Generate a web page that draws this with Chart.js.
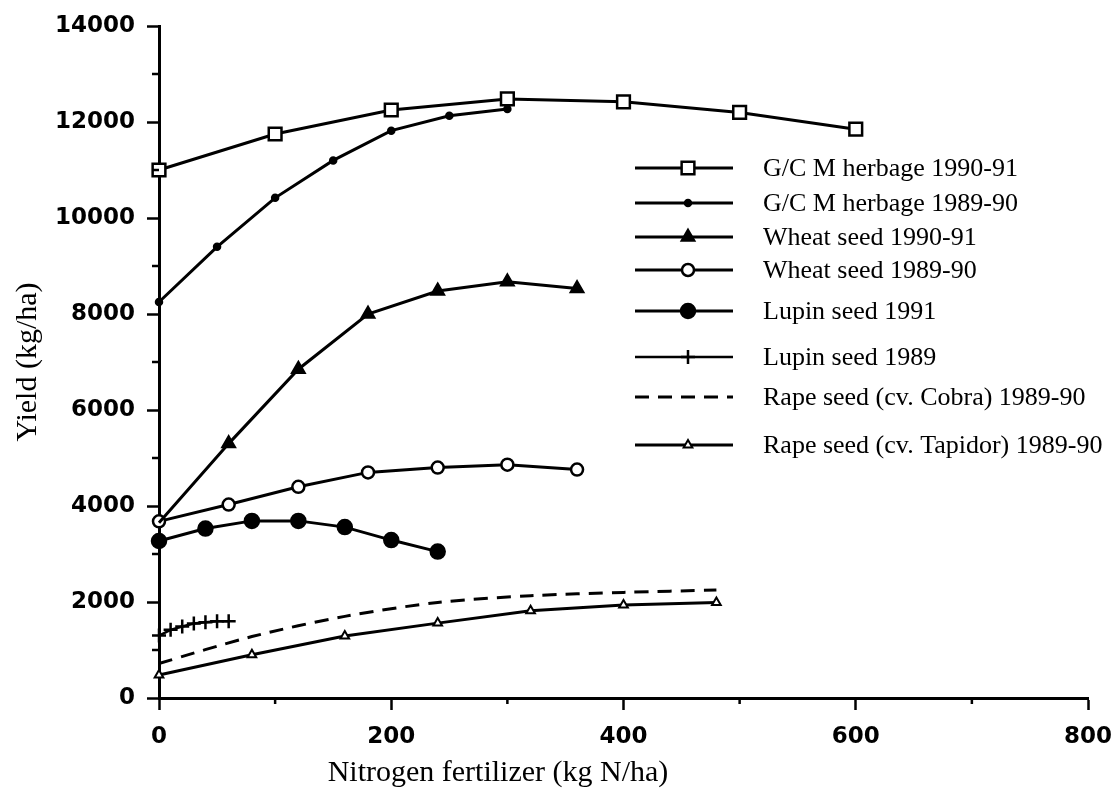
<!DOCTYPE html>
<html>
<head>
<meta charset="utf-8">
<script src="https://cdn.jsdelivr.net/npm/chart.js@4/dist/chart.umd.min.js"></script>
<style>
  html, body { margin: 0; padding: 0; background: #fff; }
  #wrap { width: 1111px; height: 796px; }
</style>
</head>
<body>
<div id="wrap"><canvas id="yieldChart" width="1111" height="796"></canvas></div>
<script>
// values
const xGC91 = [0, 100, 200, 300, 400, 500, 600];
const yGC91 = [11000, 11750, 12250, 12480, 12420, 12200, 11850];
const xGC90 = [0, 50, 100, 150, 200, 250, 300];
const yGC90 = [8250, 9400, 10420, 11200, 11820, 12130, 12270];
const xWheat = [0, 60, 120, 180, 240, 300, 360];
const yWheat91 = [3650, 5300, 6850, 8000, 8480, 8670, 8530];
const yWheat90 = [3680, 4030, 4400, 4700, 4800, 4860, 4760];
const xLupin91 = [0, 40, 80, 120, 160, 200, 240];
const yLupin91 = [3270, 3530, 3690, 3690, 3560, 3290, 3050];
const xLupin89 = [0, 10, 20, 30, 40, 50, 60];
const yLupin89 = [1300, 1420, 1490, 1550, 1580, 1600, 1600];
const xRape = [0, 80, 160, 240, 320, 400, 480];
const yCobra = [720, 1280, 1700, 1990, 2130, 2200, 2250];
const yTapidor = [480, 900, 1290, 1560, 1820, 1940, 1990];

const seriesLabels = [
  'G/C M herbage 1990-91',
  'G/C M herbage 1989-90',
  'Wheat seed 1990-91',
  'Wheat seed 1989-90',
  'Lupin seed 1991',
  'Lupin seed 1989',
  'Rape seed (cv. Cobra) 1989-90',
  'Rape seed (cv. Tapidor) 1989-90'
];
const xTicks = [0, 200, 400, 600, 800];
const yTicks = [0, 2000, 4000, 6000, 8000, 10000, 12000, 14000];
const xTitle = 'Nitrogen fertilizer (kg N/ha)';
const yTitle = 'Yield (kg/ha)';

const pts = (xs, ys) => xs.map((x, i) => ({ x, y: ys[i] }));

function series(label, data, style) {
  return Object.assign({
    label,
    data,
    showLine: true,
    borderColor: '#000',
    backgroundColor: '#000',
    pointBorderColor: '#000',
    borderWidth: 3,
    pointBorderWidth: 2.5,
    tension: 0,
    clip: false
  }, style);
}

const datasets = [
  series(seriesLabels[0], pts(xGC91, yGC91), { pointStyle: 'rect', pointRadius: 9, pointBackgroundColor: '#fff' }),
  series(seriesLabels[1], pts(xGC90, yGC90), { pointStyle: 'circle', pointRadius: 3, pointBackgroundColor: '#000' }),
  series(seriesLabels[2], pts(xWheat, yWheat91), { pointStyle: 'triangle', pointRadius: c => c.dataIndex === 0 ? 0 : 7, pointBackgroundColor: '#000' }),
  series(seriesLabels[3], pts(xWheat, yWheat90), { pointStyle: 'circle', pointRadius: 6, pointBackgroundColor: '#fff' }),
  series(seriesLabels[4], pts(xLupin91, yLupin91), { pointStyle: 'circle', pointRadius: 7, pointBackgroundColor: '#000' }),
  series(seriesLabels[5], pts(xLupin89, yLupin89), { pointStyle: 'cross', pointRadius: 7, pointBorderWidth: 2.5, borderWidth: 2.5 }),
  series(seriesLabels[6], pts(xRape, yCobra), { pointRadius: 0, borderDash: [14, 9], tension: 0.3 }),
  series(seriesLabels[7], pts(xRape, yTapidor), { pointStyle: 'triangle', pointRadius: 5, pointBorderWidth: 2, pointBackgroundColor: '#fff' })
];

// legend drawn inside the plot, plus minor ticks and the x title
const extras = {
  id: 'extras',
  afterDraw(chart) {
    const ctx = chart.ctx;
    const xs = chart.scales.x, ys = chart.scales.y;
    ctx.save();
    ctx.strokeStyle = '#000';
    ctx.lineWidth = 2.5;
    for (let v = 1000; v < 14000; v += 2000) {
      const py = ys.getPixelForValue(v);
      ctx.beginPath(); ctx.moveTo(xs.left - 7, py); ctx.lineTo(xs.left, py); ctx.stroke();
    }
    for (let v = 100; v < 800; v += 200) {
      const px = xs.getPixelForValue(v);
      ctx.beginPath(); ctx.moveTo(px, ys.bottom); ctx.lineTo(px, ys.bottom + 6); ctx.stroke();
    }

    const rows = [168, 203, 237, 270, 311, 357, 397, 445];
    chart.data.datasets.forEach((ds, i) => {
      const y = rows[i];
      ctx.save();
      ctx.lineWidth = ds.borderWidth;
      ctx.strokeStyle = '#000';
      if (ds.borderDash) ctx.setLineDash(ds.borderDash);
      ctx.beginPath(); ctx.moveTo(635, y); ctx.lineTo(733, y); ctx.stroke();
      ctx.restore();
      const r = typeof ds.pointRadius === 'function' ? 7 : ds.pointRadius;
      if (r > 0) {
        ctx.save();
        ctx.fillStyle = ds.pointBackgroundColor;
        ctx.strokeStyle = '#000';
        ctx.lineWidth = ds.pointBorderWidth;
        Chart.helpers.drawPoint(ctx, { pointStyle: ds.pointStyle, radius: r, rotation: 0, borderWidth: ds.pointBorderWidth }, 688, y);
        ctx.restore();
      }
      ctx.fillStyle = '#000';
      ctx.font = '26px "Liberation Serif", "Times New Roman", serif';
      ctx.textAlign = 'left';
      ctx.textBaseline = 'middle';
      ctx.fillText(ds.label, 763, y + 1);
    });

    ctx.font = '30px "Liberation Serif", "Times New Roman", serif';
    ctx.textAlign = 'center';
    ctx.textBaseline = 'middle';
    ctx.fillText(xTitle, 498, 773);
    ctx.restore();
  }
};

const tickFont = { family: '"DejaVu Sans", sans-serif', size: 23, weight: 'bold' };

new Chart(document.getElementById('yieldChart'), {
  type: 'scatter',
  data: { datasets },
  options: {
    responsive: false,
    animation: false,
    layout: { padding: { left: 0, right: 23, top: 26, bottom: 0 }, autoPadding: false },
    plugins: { legend: { display: false }, tooltip: { enabled: false } },
    scales: {
      x: {
        type: 'linear', min: 0, max: 800,
        afterBuildTicks: s => { s.ticks = xTicks.map(v => ({ value: v })); },
        afterFit: s => { s.height = 98; s.paddingLeft = 0; s.paddingRight = 0; },
        ticks: { font: tickFont, color: '#000', padding: 13, maxRotation: 0 },
        grid: { drawOnChartArea: false, drawTicks: true, tickLength: 12, tickWidth: 2.5, tickColor: '#000' },
        border: { display: true, color: '#000', width: 3 }
      },
      y: {
        type: 'linear', min: 0, max: 14000,
        afterBuildTicks: s => { s.ticks = yTicks.map(v => ({ value: v })); },
        afterFit: s => { s.width = 159; s.paddingTop = 0; s.paddingBottom = 0; },
        ticks: { font: tickFont, color: '#000', padding: 12, callback: v => String(v) },
        grid: { drawOnChartArea: false, drawTicks: true, tickLength: 12, tickWidth: 2.5, tickColor: '#000' },
        border: { display: true, color: '#000', width: 3 },
        title: {
          display: true, text: yTitle, color: '#000',
          font: { family: '"Liberation Serif", "Times New Roman", serif', size: 30 },
          padding: { top: 10, bottom: 0 }
        }
      }
    }
  },
  plugins: [extras]
});
</script>
</body>
</html>
